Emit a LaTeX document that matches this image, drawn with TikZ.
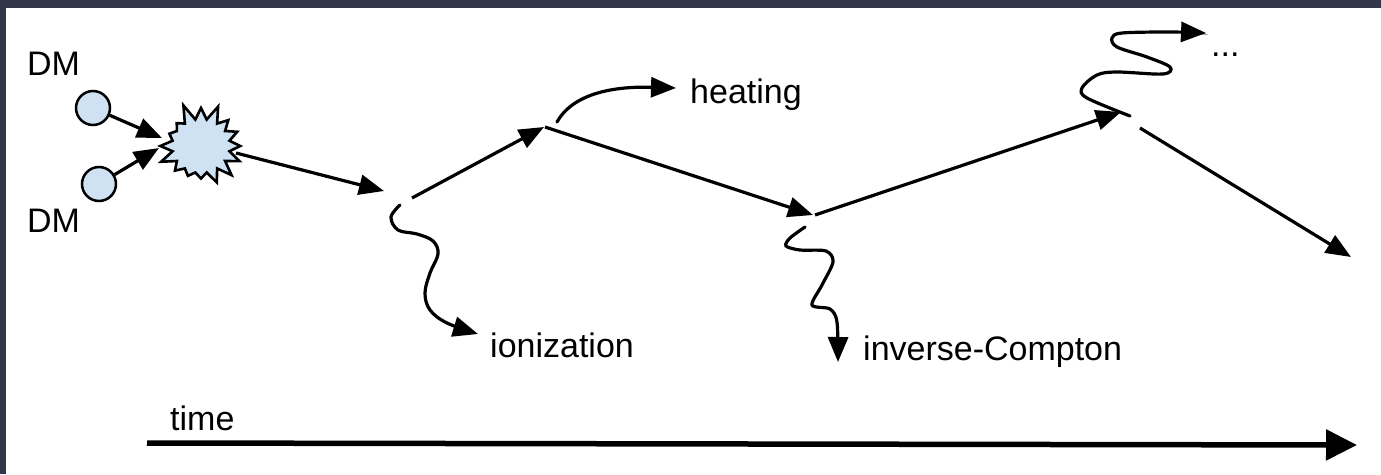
\documentclass[tikz,border=0pt]{standalone}
\usepackage{fontspec}
\setmainfont{Liberation Sans}
\usetikzlibrary{arrows.meta,shapes.symbols}
\definecolor{bgdark}{HTML}{323649}
\definecolor{dmblue}{HTML}{CFE2F3}
\begin{document}
\begin{tikzpicture}[x=1pt,y=-1pt,
  arr/.style={line width=3.2pt,-{Triangle[length=25pt,width=20pt]}},
  wig/.style={line width=3.2pt,line cap=round,-{Triangle[length=25pt,width=20pt]}},
  lbl/.style={font=\fontsize{34}{40}\selectfont, inner sep=0pt, anchor=base west},
  dm/.style={circle, draw, line width=2.5pt, fill=dmblue, minimum size=34pt, inner sep=0pt}]
\fill[bgdark] (0,0) rectangle (1381,474);
\fill[white] (6,8) rectangle (1381,474);
\useasboundingbox (0,0) rectangle (1381,474);

% labels
\node[lbl] (dmtop) at (27,75) {DM};
\node[lbl] (dmbot) at (27,232) {DM};
\node[lbl] (heat) at (690,103) {heating};
\node[lbl] (ion) at (490,357) {ionization};
\node[lbl] (ic) at (863,360) {inverse-Compton};
\node[lbl] (dots) at (1211,56) {...};
\node[lbl] (time) at (170,430) {time};

% particles
\node[dm] (c1) at (93,108) {};
\node[dm] (c2) at (99,184) {};
\node[starburst, draw, line width=2.6pt, fill=dmblue, minimum width=94pt, minimum height=90pt,
      starburst points=16, starburst point height=18pt, random starburst=5] (burst) at (201,146) {};

% coordinates
\coordinate (bin1) at (162,138);
\coordinate (bin2) at (159,148);
\coordinate (bout) at (236,153);
\coordinate (A) at (384,191);
\coordinate (B1) at (412,198);
\coordinate (B2) at (544,127);
\coordinate (C1) at (545,127);
\coordinate (C2) at (813,215);
\coordinate (D1) at (815,215);
\coordinate (D2) at (1121,112);
\coordinate (E1) at (1140,128);
\coordinate (E2) at (1351,257);
\coordinate (hs) at (557,122);
\coordinate (he) at (676,88);
\coordinate (is) at (400,205);
\coordinate (ie) at (478,334);
\coordinate (cs) at (805,227);
\coordinate (ce) at (838,362);
\coordinate (rs) at (1130,116);
\coordinate (re) at (1206,33);
\coordinate (t0) at (147,443);
\coordinate (t1) at (1357,445);

% main track
\draw[arr] (c1) -- (bin1);
\draw[arr] (c2) -- (bin2);
\draw[arr] (bout) -- (A);
\draw[arr] (B1) -- (B2);
\draw[arr] (C1) -- (C2);
\draw[arr] (D1) -- (D2);
\draw[arr] (E1) -- (E2);

% side products
\draw[wig] (hs) .. controls (572,95) and (610,86) .. (he);
\draw[wig] plot[smooth, tension=0.6] coordinates {(is) (391,217) (398,230) (417,234) (433,241) (438,254) (430,273) (425,293) (430,310) (447,323) (ie)};
\draw[wig] plot[smooth, tension=0.5] coordinates {(cs) (790,238) (786,246) (800,250) (826,251) (833,262) (822,285) (812,305) (830,309) (837,322) (ce)};
\draw[wig] plot[smooth, tension=0.55] coordinates {(rs) (1087,98) (1082,88) (1097,75) (1117,72) (1163,74) (1170,67) (1147,57) (1117,47) (1112,38) (1122,33) (1170,32) (re)};

% time axis
\draw[line width=5.5pt,-{Triangle[length=31pt,width=30pt]}] (t0) -- (t1);
\end{tikzpicture}
\end{document}
